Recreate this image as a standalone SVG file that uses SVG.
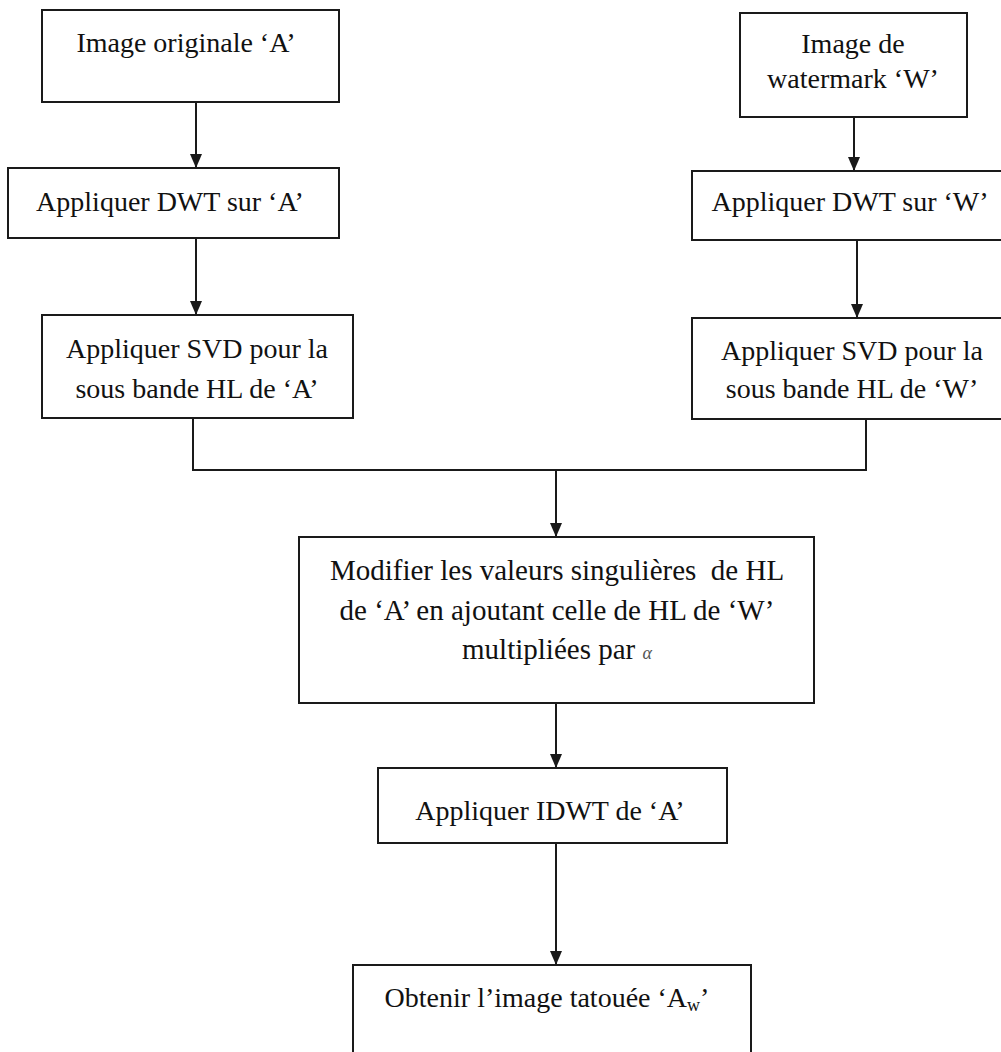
<svg xmlns="http://www.w3.org/2000/svg" width="1001" height="1052" viewBox="0 0 1001 1052">
<defs>
<style>
.box{fill:#fff;stroke:#1a1a1a;stroke-width:2}
.t{font-family:"Liberation Serif","Times New Roman",serif;font-size:28px;fill:#111;text-anchor:middle}
.tb{font-size:29px}
.ln{fill:none;stroke:#1a1a1a;stroke-width:2}
</style>
<marker id="ah" markerWidth="14" markerHeight="12" refX="14" refY="6" orient="auto" markerUnits="userSpaceOnUse" viewBox="0 0 14 12">
<path d="M0,0 L14,6 L0,12 Z" fill="#1a1a1a"/>
</marker>
</defs>
<rect width="1001" height="1052" fill="#fff"/>
<g id="connectors">
<line class="ln" x1="196" y1="102" x2="196" y2="168" marker-end="url(#ah)"/>
<line class="ln" x1="196" y1="238" x2="196" y2="315" marker-end="url(#ah)"/>
<line class="ln" x1="854" y1="117" x2="854" y2="171" marker-end="url(#ah)"/>
<line class="ln" x1="857" y1="240" x2="857" y2="318" marker-end="url(#ah)"/>
<polyline class="ln" points="193,418 193,470 866,470 866,419"/>
<line class="ln" x1="556" y1="470" x2="556" y2="537" marker-end="url(#ah)"/>
<line class="ln" x1="556" y1="703" x2="556" y2="768" marker-end="url(#ah)"/>
<line class="ln" x1="556" y1="843" x2="556" y2="965" marker-end="url(#ah)"/>
</g>
<g id="n1">
<rect class="box" x="42" y="10" width="297" height="92"/>
<text class="t" x="186" y="52">Image originale ‘A’</text>
</g>
<g id="n2">
<rect class="box" x="8" y="168" width="331" height="70"/>
<text class="t" x="170" y="211">Appliquer DWT sur ‘A’</text>
</g>
<g id="n3">
<rect class="box" x="42" y="315" width="311" height="103"/>
<text class="t" x="197" y="358">Appliquer SVD pour la</text>
<text class="t" x="197" y="398">sous bande HL de ‘A’</text>
</g>
<g id="r1">
<rect class="box" x="740" y="13" width="227" height="104"/>
<text class="t" x="853" y="53">Image de</text>
<text class="t" x="853" y="88">watermark ‘W’</text>
</g>
<g id="r2">
<rect class="box" x="692" y="171" width="313" height="69"/>
<text class="t" x="850" y="211">Appliquer DWT sur ‘W’</text>
</g>
<g id="r3">
<rect class="box" x="692" y="318" width="313" height="101"/>
<text class="t" x="852" y="360">Appliquer SVD pour la</text>
<text class="t" x="852" y="398">sous bande HL de ‘W’</text>
</g>
<g id="n4">
<rect class="box" x="299" y="537" width="515" height="166"/>
<text class="t tb" x="557" y="580" xml:space="preserve">Modifier les valeurs singulières  de HL</text>
<text class="t tb" x="557" y="620">de ‘A’ en ajoutant celle de HL de ‘W’</text>
<text class="t tb" x="557" y="659">multipliées par <tspan font-size="18" font-style="italic" fill="#555">α</tspan></text>
</g>
<g id="n5">
<rect class="box" x="378" y="768" width="349" height="75"/>
<text class="t" x="550" y="820">Appliquer IDWT de ‘A’</text>
</g>
<g id="n6">
<path class="ln" d="M353,1060 L353,965 L751,965 L751,1060"/>
<text class="t" x="547" y="1007">Obtenir l’image tatouée ‘A<tspan font-size="18" dy="4">w</tspan><tspan dy="-4">’</tspan></text>
</g>
</svg>
